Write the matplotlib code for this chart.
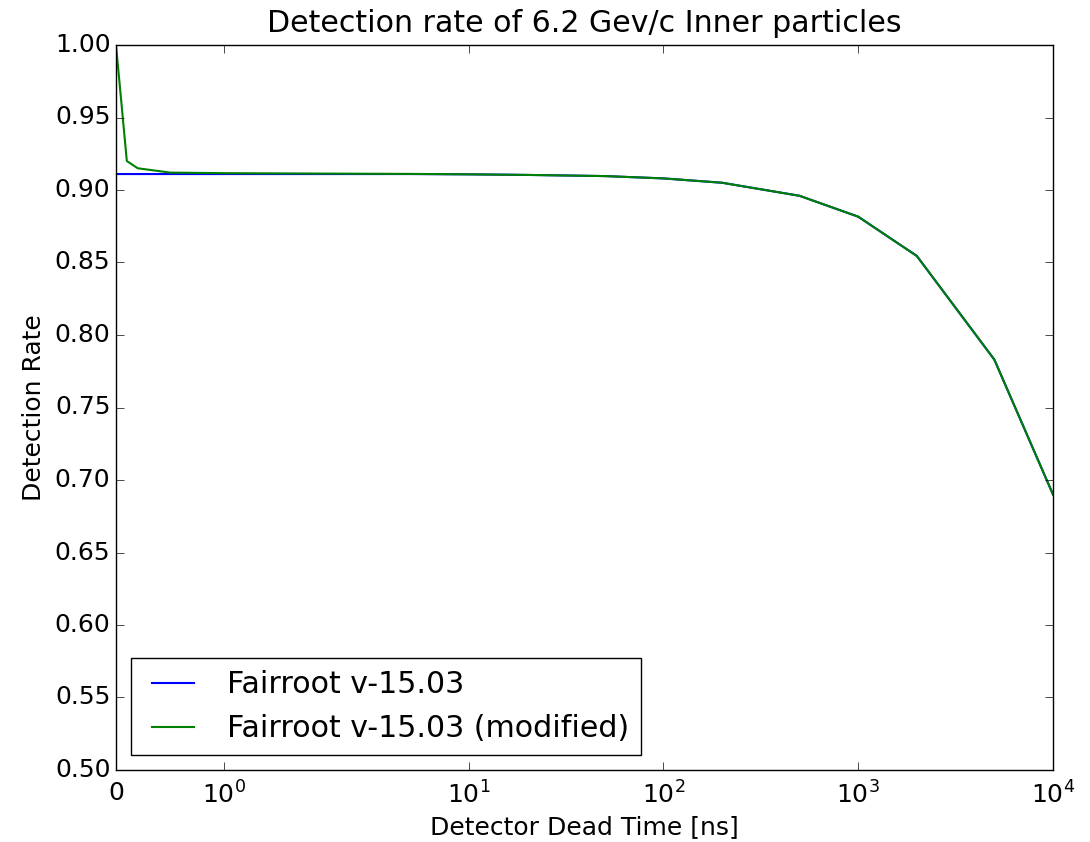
import matplotlib
matplotlib.use('Agg')
from matplotlib import pyplot as plt
from matplotlib.ticker import NullLocator, MultipleLocator, FormatStrFormatter

dead_time = [0, 0.1, 0.2, 0.5, 1, 2, 5, 10, 20, 50, 100, 200, 500, 1000, 2000, 5000, 10000]
rate_orig = [0.911, 0.911, 0.911, 0.911, 0.911, 0.911, 0.911, 0.9108, 0.9104, 0.9096,
             0.908, 0.905, 0.896, 0.8816, 0.8545, 0.783, 0.690]
rate_mod = [1.0, 0.920, 0.915, 0.912, 0.9116, 0.9113, 0.9111, 0.9108, 0.9104, 0.9096,
            0.908, 0.905, 0.896, 0.8816, 0.8545, 0.783, 0.690]
x_ticks = [0, 1, 10, 100, 1000, 10000]

plt.style.use('classic')
fig = plt.figure(figsize=(10.9, 8.42), dpi=100)
ax = fig.add_axes([116 / 1090, 1 - 770 / 842, (1053 - 116) / 1090, (770 - 45) / 842])

ax.plot(dead_time, rate_orig, color='blue', lw=1.5, label='Fairroot v-15.03')
ax.plot(dead_time, rate_mod, color='green', lw=1.5, label='Fairroot v-15.03 (modified)')

ax.set_xscale('symlog', linthresh=2)
ax.set_xlim(0, 10000)
ax.set_ylim(0.5, 1.0)
ax.set_xticks(x_ticks)
ax.xaxis.set_minor_locator(NullLocator())
ax.yaxis.set_major_locator(MultipleLocator(0.05))
ax.yaxis.set_major_formatter(FormatStrFormatter('%.2f'))
ax.tick_params(labelsize=18, length=6)
ax.xaxis.set_tick_params(pad=8)

ax.set_xlabel('Detector Dead Time [ns]', fontsize=18)
ax.set_ylabel('Detection Rate', fontsize=18, labelpad=6)
ax.set_title('Detection rate of 6.2 Gev/c Inner particles', fontsize=21.6, pad=9)
ax.legend(loc='lower left', fontsize=21.6)

fig.savefig('out.png', dpi=100)
